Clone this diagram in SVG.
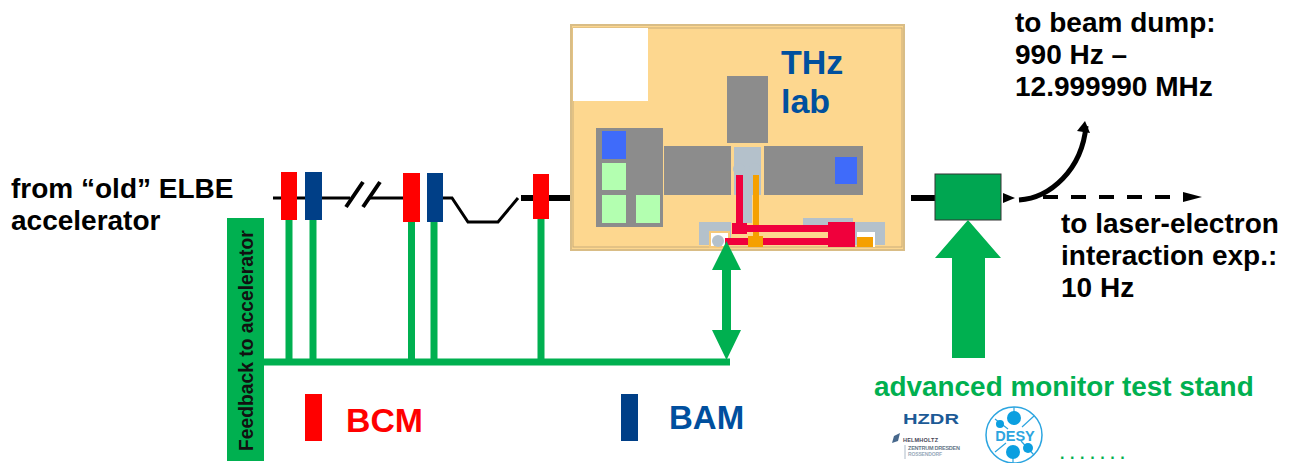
<svg xmlns="http://www.w3.org/2000/svg" width="1289" height="463" viewBox="0 0 1289 463">
<defs>
<style>
text{font-family:"Liberation Sans",Arial,sans-serif;font-weight:bold}
.k{fill:#000;font-size:28px}
.bcm{fill:#f00}.bam{fill:#003f87}
.gr{fill:#00b050}.gy{fill:#8c8c8c}.lb{fill:#b4c1cb}.bl{fill:#3f6bfa}.lg{fill:#b3ffb0}.rd{fill:#f0003c}.or{fill:#f5a000}
.ln{fill:none;stroke:#000;stroke-width:3}
.sl{fill:none;stroke:#000;stroke-width:4}
.gl{stroke:#00b050;stroke-width:7;fill:none}
.sp{stroke:#2ca5e0;stroke-width:1.2;fill:none}
</style>
</defs>
<g id="connectors">
<path class="ln" d="M273 198H350M370 198H405"/>
<path class="sl" d="M346 207L363 182M363 207L380 182"/>
<path class="ln" d="M443 198H452L468 222H498L518 198"/>
<path d="M521 198H572" stroke="#000" stroke-width="6"/>
<path d="M911 198H936" stroke="#000" stroke-width="6"/>
<path d="M1003 193L1015 198L1003 203z" fill="#000"/>
<path d="M1019 200C1050 198 1082 170 1086 126" fill="none" stroke="#000" stroke-width="5"/>
<path d="M1077 131L1085 121L1090 133z" fill="#000"/>
<path d="M1043 197H1185" fill="none" stroke="#000" stroke-width="4" stroke-dasharray="15 13"/>
<path d="M1183 192L1202 197L1183 202z" fill="#000"/>
<path class="gl" d="M289 220V362M313 220V362M411.500 217V362M434 220V362M541 219V362"/>
<path class="gl" d="M264 362H730"/>
</g>
<g id="thz-lab">
<rect x="571" y="25" width="333" height="225" fill="#fdd78f" stroke="#d9bd86" stroke-width="2"/>
<rect x="573" y="28" width="329" height="219" fill="none" stroke="#c9ad7a" stroke-width="1"/>
<rect x="573" y="28" width="75" height="73" fill="#fff"/>
<rect class="gy" x="727" y="76" width="41" height="67"/>
<rect class="gy" x="596" y="128" width="67" height="99"/>
<rect class="bl" x="602" y="131" width="24" height="28"/>
<rect class="lg" x="602" y="163" width="24" height="27"/>
<rect class="lg" x="602" y="195" width="24" height="28"/>
<rect class="lg" x="636" y="195" width="24" height="28"/>
<rect class="gy" x="664" y="146" width="67" height="49"/>
<rect class="gy" x="764" y="146" width="99" height="49"/>
<rect class="bl" x="835" y="157" width="22" height="27"/>
<rect class="lb" x="734" y="147" width="27" height="48"/>
<rect class="lb" x="736" y="195" width="16" height="28"/>
<circle class="lb" cx="739" cy="169" r="6"/><circle class="lb" cx="755" cy="169" r="6"/>
<rect class="lb" x="699" y="222" width="32" height="23"/>
<rect class="lb" x="803" y="218" width="50" height="9"/>
<rect class="lb" x="855" y="222" width="30" height="23"/>
<rect x="710" y="232" width="19" height="15" fill="#fff" stroke="#f5c97a" stroke-width="2"/>
<circle class="lb" cx="718" cy="241" r="6"/>
<rect class="rd" x="736" y="175" width="7" height="50"/>
<rect class="or" x="753" y="175" width="6" height="62"/>
<rect class="rd" x="732" y="223" width="15" height="11"/>
<rect class="rd" x="747" y="225" width="81" height="7"/>
<rect class="rd" x="725" y="238" width="103" height="7"/>
<rect class="or" x="748" y="236" width="15" height="11"/>
<rect class="rd" x="828" y="222" width="27" height="25"/>
<rect x="857" y="232" width="18" height="15" fill="#fff"/>
<rect class="or" x="857" y="237" width="16" height="10"/>
<text x="781" y="74" font-size="34" fill="#00509e">THz</text>
<text x="781" y="113" font-size="34" fill="#00509e">lab</text>
</g>
<g id="bcm-1"><rect class="bcm" x="281" y="172" width="16" height="48"/></g>
<g id="bam-1"><rect class="bam" x="305" y="172" width="17" height="48"/></g>
<g id="bcm-2"><rect class="bcm" x="403" y="173" width="17" height="49"/></g>
<g id="bam-2"><rect class="bam" x="427" y="173" width="16" height="49"/></g>
<g id="bcm-3"><rect class="bcm" x="533" y="174" width="16" height="45"/></g>
<g id="monitor"><rect x="935" y="174" width="66" height="46" fill="#00a651" stroke="#333" stroke-width="1"/></g>
<g id="double-arrow"><path class="gr" d="M726.500 241L741 270H731V330H741L726.500 360L712 330H722V270H712z"/></g>
<g id="big-arrow"><path class="gr" d="M968 220L1001 258H985V358H952V258H935z"/></g>
<g id="feedback">
<rect class="gr" x="227" y="218" width="37" height="243"/>
<text transform="translate(253 451) rotate(-90)" font-size="19.300" fill="#111">Feedback to accelerator</text>
</g>
<g id="labels">
<text class="k" x="11" y="198">from “old” ELBE</text>
<text class="k" x="11" y="230">accelerator</text>
<text class="k" x="1015" y="32">to beam dump:</text>
<text class="k" x="1015" y="64">990 Hz –</text>
<text class="k" x="1015" y="96">12.999990 MHz</text>
<text class="k" x="1061" y="233">to laser-electron</text>
<text class="k" x="1061" y="265">interaction exp.:</text>
<text class="k" x="1061" y="297">10 Hz</text>
<text x="874" y="396" font-size="27.900" fill="#00b050">advanced monitor test stand</text>
<text x="346" y="432" font-size="33.800" fill="#f00">BCM</text>
<text x="669" y="429" font-size="33" fill="#004f9e">BAM</text>
<text x="1060" y="459" font-size="16" letter-spacing="5.600" fill="#00b050">.......</text>
</g>
<g id="legend-bcm"><rect class="bcm" x="305" y="394" width="17" height="47"/></g>
<g id="legend-bam"><rect class="bam" x="621" y="394" width="17" height="47"/></g>
<g id="hzdr">
<text x="903" y="424" font-size="14" textLength="56" lengthAdjust="spacingAndGlyphs" fill="#1c5a96">HZDR</text>
<path d="M892 443L894 436L900 433L898 441z" fill="#47688c"/>
<path d="M905 445V459" stroke="#9ab" stroke-width="0.800"/>
<text x="903" y="442" font-size="5.500" textLength="35" fill="#445">HELMHOLTZ</text>
<text x="908" y="450" font-size="5.500" textLength="52" fill="#678">ZENTRUM DRESDEN</text>
<text x="908" y="456" font-size="5" textLength="34" fill="#9ab">ROSSENDORF</text>
</g>
<g id="desy">
<circle cx="1014" cy="435" r="28" fill="#fff" stroke="#2ca5e0" stroke-width="1.500"/>
<path class="sp" d="M1014 407V425M1013 446V463M995 419L1008 429M1034 455L1021 441M1034 416L1022 427M995 452L1006 443"/>
<circle cx="1014" cy="418" r="7" fill="#0b9fe0"/><circle cx="1013" cy="452" r="7" fill="#0b9fe0"/>
<circle cx="1000" cy="424" r="4" fill="#0b9fe0"/><circle cx="1028" cy="448" r="5" fill="#0b9fe0"/>
<text x="1015" y="441" font-size="14.500" fill="#2ca5e0" text-anchor="middle">DESY</text>
</g>
</svg>
